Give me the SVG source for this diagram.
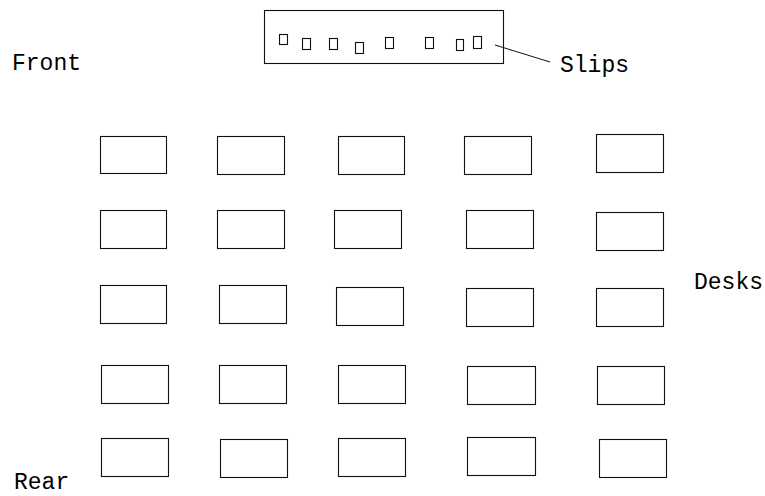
<svg xmlns="http://www.w3.org/2000/svg" width="765" height="496" viewBox="0 0 765 496">
<style>
.box{fill:#fff;stroke:#111;stroke-width:1.1}
.slip{fill:none;stroke:#111;stroke-width:1.1}
.lbl{font-family:"Liberation Mono","Courier New",monospace;font-size:23px;fill:#000}
.conn{stroke:#111;stroke-width:1;fill:none}
</style>
<rect width="765" height="496" fill="#fff"/>
<g id="labels">
<text class="lbl" x="12" y="70">Front</text>
<text class="lbl" x="14" y="489">Rear</text>
<text class="lbl" x="694" y="289">Desks</text>
<text class="lbl" x="560" y="72">Slips</text>
</g>
<g id="tray">
<rect class="box" x="264.5" y="10.5" width="239" height="53"/>
<rect class="slip" x="279.5" y="34.5" width="8" height="10"/>
<rect class="slip" x="302.5" y="38.5" width="8" height="11"/>
<rect class="slip" x="329.5" y="38.5" width="8" height="11"/>
<rect class="slip" x="355.5" y="42.5" width="8" height="11"/>
<rect class="slip" x="385.5" y="37.5" width="8" height="11"/>
<rect class="slip" x="425.5" y="37.5" width="8" height="11"/>
<rect class="slip" x="456.5" y="39.5" width="7" height="11"/>
<rect class="slip" x="473.5" y="36.5" width="8" height="12"/>
</g>
<g id="connectors">
<path class="conn" d="M495,45 L550,62"/>
</g>
<g id="desks">
<g id="desk-r1c1"><rect class="box" x="100.5" y="136.5" width="66" height="37"/></g>
<g id="desk-r1c2"><rect class="box" x="217.5" y="136.5" width="67" height="38"/></g>
<g id="desk-r1c3"><rect class="box" x="338.5" y="136.5" width="66" height="38"/></g>
<g id="desk-r1c4"><rect class="box" x="464.5" y="136.5" width="67" height="38"/></g>
<g id="desk-r1c5"><rect class="box" x="596.5" y="134.5" width="67" height="38"/></g>
<g id="desk-r2c1"><rect class="box" x="100.5" y="210.5" width="66" height="38"/></g>
<g id="desk-r2c2"><rect class="box" x="217.5" y="210.5" width="67" height="38"/></g>
<g id="desk-r2c3"><rect class="box" x="334.5" y="210.5" width="67" height="38"/></g>
<g id="desk-r2c4"><rect class="box" x="466.5" y="210.5" width="67" height="38"/></g>
<g id="desk-r2c5"><rect class="box" x="596.5" y="212.5" width="67" height="38"/></g>
<g id="desk-r3c1"><rect class="box" x="100.5" y="285.5" width="66" height="38"/></g>
<g id="desk-r3c2"><rect class="box" x="219.5" y="285.5" width="67" height="38"/></g>
<g id="desk-r3c3"><rect class="box" x="336.5" y="287.5" width="67" height="38"/></g>
<g id="desk-r3c4"><rect class="box" x="466.5" y="288.5" width="67" height="38"/></g>
<g id="desk-r3c5"><rect class="box" x="596.5" y="288.5" width="67" height="38"/></g>
<g id="desk-r4c1"><rect class="box" x="101.5" y="365.5" width="67" height="38"/></g>
<g id="desk-r4c2"><rect class="box" x="219.5" y="365.5" width="67" height="38"/></g>
<g id="desk-r4c3"><rect class="box" x="338.5" y="365.5" width="67" height="38"/></g>
<g id="desk-r4c4"><rect class="box" x="467.5" y="366.5" width="68" height="38"/></g>
<g id="desk-r4c5"><rect class="box" x="597.5" y="366.5" width="67" height="38"/></g>
<g id="desk-r5c1"><rect class="box" x="101.5" y="438.5" width="67" height="38"/></g>
<g id="desk-r5c2"><rect class="box" x="220.5" y="439.5" width="67" height="38"/></g>
<g id="desk-r5c3"><rect class="box" x="338.5" y="438.5" width="67" height="38"/></g>
<g id="desk-r5c4"><rect class="box" x="467.5" y="437.5" width="68" height="38"/></g>
<g id="desk-r5c5"><rect class="box" x="599.5" y="439.5" width="67" height="38"/></g>
</g>
</svg>
